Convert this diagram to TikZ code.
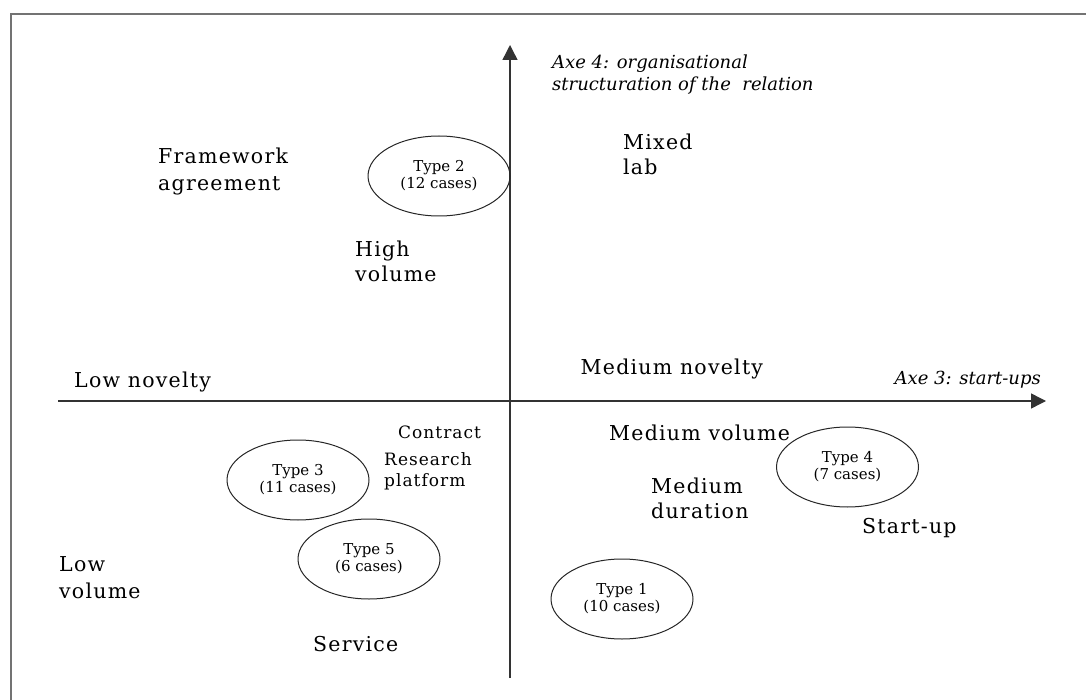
\documentclass[tikz,border=0pt]{standalone}
\usepackage{fontspec}
\setmainfont{DejaVu Serif}
\newfontfamily\lblfont[LetterSpace=6]{DejaVu Serif}
\usetikzlibrary{shapes.geometric,arrows.meta}

% two stacked lines; the box's baseline is that of the first line
\newcommand\twoline[3]{\vtop{\baselineskip=#1\hbox{#2}\hbox{#3}}}

\begin{document}
\begin{tikzpicture}[x=1pt,y=-1pt,
  frameline/.style={draw=black!55, line width=2pt},
  axisline/.style={draw=black!80, line width=1.4pt, -{Triangle[length=15pt,width=15pt]}},
  bigtext/.style={anchor=base west, inner sep=0pt, font=\lblfont\fontsize{20.5}{27}\selectfont},
  midtext/.style={anchor=base west, inner sep=0pt, font=\lblfont\fontsize{17}{22}\selectfont},
  axetext/.style={inner sep=0pt, font=\itshape\fontsize{18}{22.5}\selectfont},
  typeell/.style={ellipse, draw=black!85, line width=1pt, minimum width=142pt,
    minimum height=80pt, inner sep=0pt, align=center,
    font=\fontsize{15}{17}\selectfont},
]
\useasboundingbox (0,0) rectangle (1086,700);

% frame (left and top edges)
\coordinate (frameBL) at (11,700);
\coordinate (frameTL) at (11,14);
\coordinate (frameTR) at (1086,14);
\draw[frameline] (frameBL) -- (frameTL) -- (frameTR);

% axes
\coordinate (vBottom) at (510,678);
\coordinate (vTop) at (510,45);
\coordinate (hLeft) at (58,401);
\coordinate (hRight) at (1046,401);
\draw[axisline] (vBottom) -- (vTop);
\draw[axisline] (hLeft) -- (hRight);

% axis titles
\node[axetext, anchor=base west] (axe4) at (552,68.3)
  {\twoline{22.4pt}{Axe 4: organisational}{structuration of the\ \ relation}};
\node[axetext, anchor=base east] (axe3) at (1041,384.3) {Axe 3: start-ups};

% quadrant labels
\node[bigtext] (framework) at (158,163.3) {\twoline{27pt}{Framework}{agreement}};
\node[bigtext] (highvol) at (355,256.7) {\twoline{25pt}{High}{volume}};
\node[bigtext] (mixedlab) at (623,150) {\twoline{25pt}{Mixed}{lab}};
\node[bigtext] (lownov) at (74,387.3) {Low novelty};
\node[bigtext] (mednov) at (580.5,374.3) {Medium novelty};
\node[midtext] (contract) at (398,438.3) {Contract};
\node[midtext] (research) at (384,465) {\twoline{21.7pt}{Research}{platform}};
\node[bigtext] (medvol) at (609,440) {Medium volume};
\node[bigtext] (meddur) at (651,493.3) {\twoline{25pt}{Medium}{duration}};
\node[bigtext] (startup) at (862,533.3) {Start-up};
\node[bigtext] (lowvol) at (59,571.7) {\twoline{26.6pt}{Low}{volume}};
\node[bigtext] (service) at (313,651.7) {Service};

% relation types
\node[typeell] (t2) at (439,176) {Type 2\\(12 cases)};
\node[typeell] (t3) at (298,480) {Type 3\\(11 cases)};
\node[typeell] (t5) at (369,559) {Type 5\\(6 cases)};
\node[typeell] (t4) at (847.5,467) {Type 4\\(7 cases)};
\node[typeell] (t1) at (622,599) {Type 1\\(10 cases)};
\end{tikzpicture}
\end{document}
